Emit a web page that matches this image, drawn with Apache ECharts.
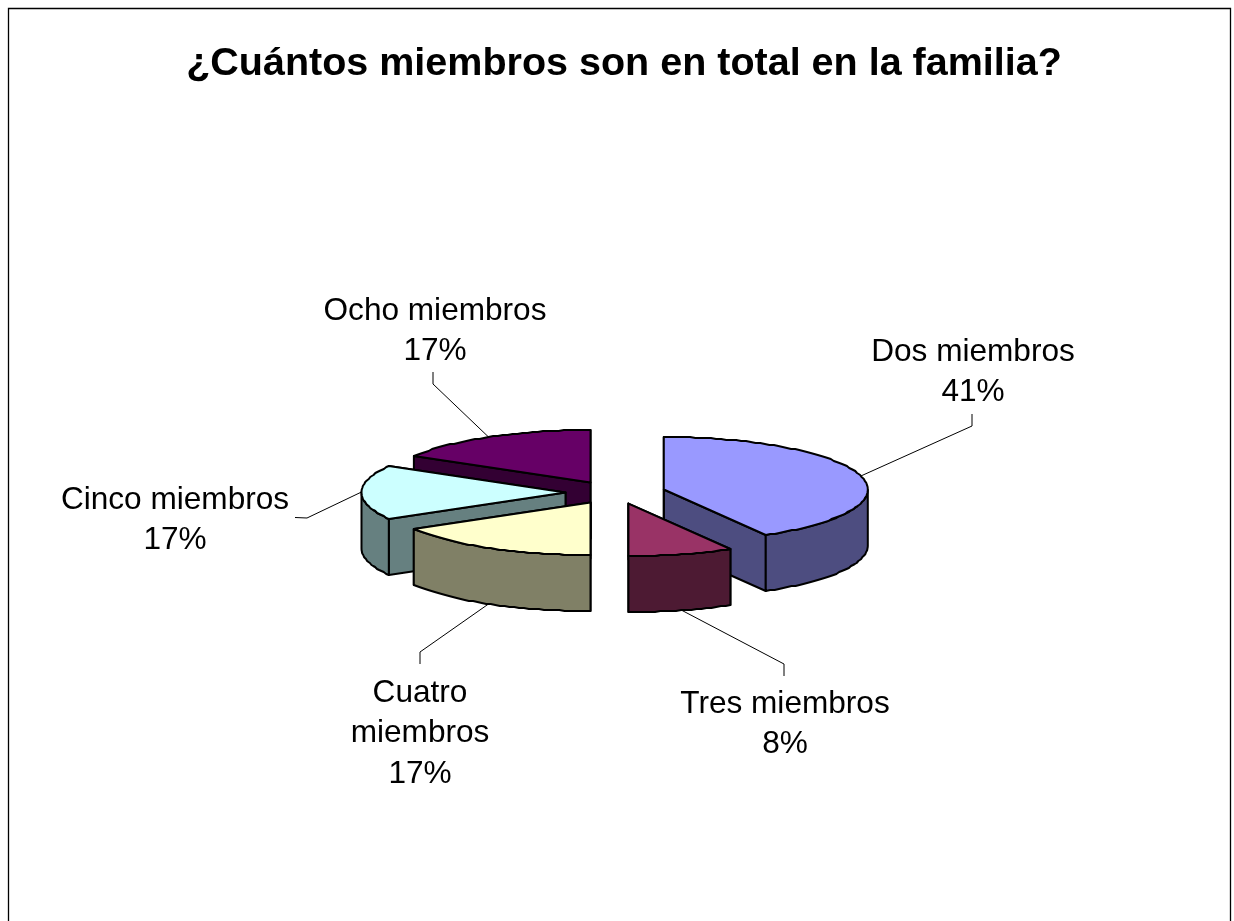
<!DOCTYPE html>
<html><head><meta charset="utf-8">
<style>html,body{margin:0;padding:0;background:#fff}#c{width:1234px;height:921px}</style>
<script src="https://cdn.jsdelivr.net/npm/echarts@6/dist/echarts.min.js"></script>
</head><body><div id="c"></div>
<script>
// Data
const titleText = '¿Cuántos miembros son en total en la familia?';
const categories = ['Dos miembros', 'Tres miembros', 'Cuatro miembros', 'Cinco miembros', 'Ocho miembros'];
const shares = [41.67, 8.33, 16.67, 16.67, 16.66];
const percentLabels = ['41%', '8%', '17%', '17%', '17%'];
const topColors = ['#9999FF', '#993366', '#FFFFCC', '#CCFFFF', '#660066'];
const sideColors = ['#4D4D80', '#4D1A33', '#808066', '#668080', '#330033'];

// Layout (not data)
const PIE = { cx: 615.5, cy: 492.5, rx: 204, ry: 52.5, depth: 56, explodeX: 50, explodeY: 11.5 };
const FONT = '"Liberation Sans", Arial, sans-serif';
const LABEL_SIZE = 31.6, LABEL_LH = 40.4;
const labelCentres = [[973, 372], [785, 724], [420, 733.5], [175, 520], [435, 331]];
const wrapLabel = [false, false, true, false, false];
const leaderElbows = [[[972, 414], [972, 426]], [[784, 676], [784, 664]], [[420, 664], [420, 652]],
                      [[295, 517.5], [307, 518]], [[433, 372], [433, 384]]];

const total = shares.reduce((a, b) => a + b, 0);
const spans = [];
shares.reduce((acc, v) => { const e = acc + v; spans.push([acc / total * 360, e / total * 360]); return e; }, 0);
const RAD = Math.PI / 180;
const centre = i => {
  const m = (spans[i][0] + spans[i][1]) / 2 * RAD;
  return [PIE.cx + PIE.explodeX * Math.sin(m), PIE.cy - PIE.explodeY * Math.cos(m)];
};
const rim = (i, a, dz) => {
  const c = centre(i);
  // slight vertical snapping gives the stepped outline of the original
  return [c[0] + PIE.rx * Math.sin(a * RAD),
          Math.round(c[1] - PIE.ry * Math.cos(a * RAD)) + dz];
};
const arc = (i, a0, a1, dz) => {
  const n = Math.max(2, Math.ceil((a1 - a0) / 1.5)), pts = [];
  for (let k = 0; k <= n; k++) pts.push(rim(i, a0 + (a1 - a0) * k / n, dz));
  return pts;
};
// painter's order: slices nearer the viewer are drawn later
const ranks = categories.map((_, i) => i).sort((a, b) => centre(a)[1] - centre(b)[1]);

function renderItem(params, api) {
  const i = params.dataIndex, [a0, a1] = spans[i], c = centre(i), d = PIE.depth;
  const base = (ranks.indexOf(i) + 1) * 10;
  const edge = { stroke: '#000', lineWidth: 2, lineJoin: 'round' };
  const poly = (points, fill, z2) => ({ type: 'polygon', z2, silent: true,
    shape: { points }, style: Object.assign({ fill }, edge) });
  const radial = a => { const e = rim(i, a, 0);
    return poly([c, e, [e[0], e[1] + d], [c[0], c[1] + d]], sideColors[i], base); };
  const children = [radial(a1), radial(a0)];
  const v0 = Math.max(a0, 90), v1 = Math.min(a1, 270);
  if (v1 > v0) {
    children.push(poly(arc(i, v0, v1, 0).concat(arc(i, v0, v1, d).reverse()), sideColors[i], base + 1));
  }
  children.push(poly([c].concat(arc(i, a0, a1, 0)), topColors[i], base + 2));

  // leader line from the middle of the outer edge
  const mid = (a0 + a1) / 2;
  const anchor = rim(i, mid, mid >= 90 && mid <= 270 ? d : 0);
  children.push({ type: 'polyline', z2: 100, silent: true,
    shape: { points: leaderElbows[i].concat([anchor]) },
    style: { fill: null, stroke: '#000', lineWidth: 1 } });

  const name = wrapLabel[i] ? categories[i].replace(' ', '\n') : categories[i];
  children.push({ type: 'text', z2: 101, silent: true,
    style: { x: labelCentres[i][0], y: labelCentres[i][1], text: name + '\n' + percentLabels[i],
      fill: '#000', font: LABEL_SIZE + 'px ' + FONT, lineHeight: LABEL_LH,
      align: 'center', verticalAlign: 'middle' } });
  return { type: 'group', children };
}

const chart = echarts.init(document.getElementById('c'), null, { renderer: 'canvas' });
chart.setOption({
  animation: false,
  backgroundColor: '#fff',
  title: { text: titleText, left: 619, top: 39, textAlign: 'center',
    textStyle: { fontFamily: FONT, fontWeight: 'bold', fontSize: 39.5, color: '#000' } },
  graphic: [{ type: 'polyline', silent: true,
    shape: { points: [[8.5, 921], [8.5, 8.5], [1230.5, 8.5], [1230.5, 921]] },
    style: { fill: null, stroke: '#000', lineWidth: 1.3 } }],
  series: [{ type: 'custom', coordinateSystem: 'none', renderItem,
    data: shares.map((v, i) => ({ name: categories[i], value: [v] })) }]
});
</script></body></html>
